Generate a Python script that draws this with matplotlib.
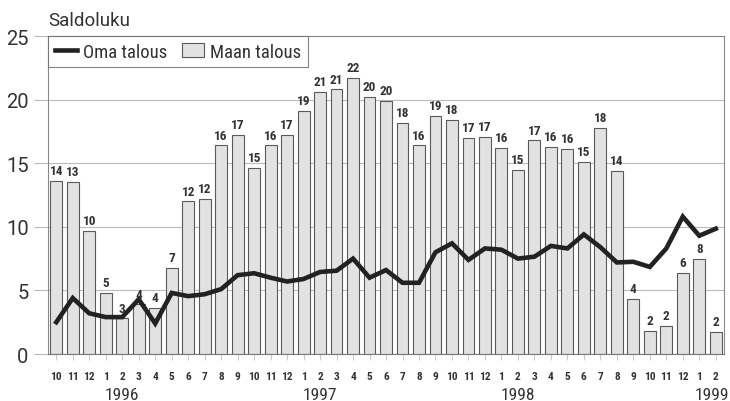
import numpy as np
import matplotlib
matplotlib.use("Agg")
import matplotlib.pyplot as plt
from matplotlib.lines import Line2D
from matplotlib.patches import Patch

# kuukaudet 10/1995 - 2/1999
kuukaudet = [10, 11, 12] + list(range(1, 13)) * 3 + [1, 2]
vuodet = ["1996", "1997", "1998", "1999"]

maan_talous = [13.6, 13.5, 9.7, 4.8, 2.8, 3.9, 3.6, 6.75, 12.0, 12.2, 16.4, 17.2,
               14.6, 16.4, 17.2, 19.1, 20.6, 20.8, 21.7, 20.2, 19.9, 18.2, 16.4, 18.7,
               18.4, 17.0, 17.1, 16.2, 14.5, 16.8, 16.3, 16.1, 15.1, 17.8, 14.4, 4.3,
               1.8, 2.2, 6.35, 7.5, 1.75]
maan_labels = [14, 13, 10, 5, 3, 4, 4, 7, 12, 12, 16, 17, 15, 16, 17, 19, 21, 21, 22,
               20, 20, 18, 16, 19, 18, 17, 17, 16, 15, 17, 16, 16, 15, 18, 14, 4, 2,
               2, 6, 8, 2]
oma_talous = [2.5, 4.4, 3.2, 2.9, 2.9, 4.3, 2.4, 4.8, 4.55, 4.7, 5.1, 6.2, 6.35,
              6.0, 5.7, 5.9, 6.45, 6.55, 7.5, 6.0, 6.6, 5.6, 5.6, 8.0, 8.7, 7.4,
              8.3, 8.2, 7.5, 7.65, 8.5, 8.3, 9.4, 8.4, 7.2, 7.25, 6.85, 8.3, 10.8,
              9.3, 9.85]

narrow = ["Roboto Condensed", "Archivo Narrow", "DejaVu Sans"]
normal = ["Roboto", "DejaVu Sans"]
tekstiv = "#333333"
x = np.arange(len(kuukaudet))

fig = plt.figure(figsize=(7.3, 4.02), dpi=100)
ax = fig.add_axes([0.0658, 0.1169, 0.926, 0.791])

ax.bar(x, maan_talous, width=0.72, color="#e2e2e2", edgecolor="#5a5a5a",
       linewidth=0.8, zorder=2)
ax.plot(x, oma_talous, color="#222222", linewidth=3.3, zorder=3,
        solid_joinstyle="miter")

for xi, h, lab in zip(x, maan_talous, maan_labels):
    ax.text(xi, h + 0.3, str(lab), ha="center", va="bottom", fontsize=9.5,
            fontweight="bold", family=narrow, color=tekstiv, zorder=4)

ax.set_xlim(-0.5, 40.5)
ax.set_ylim(0, 25)
ax.set_yticks([0, 5, 10, 15, 20, 25])
ax.yaxis.grid(True, color="#bbbbbb", linewidth=0.8, zorder=0)
ax.set_axisbelow(True)
ax.tick_params(axis="y", length=10, color="#bbbbbb", labelsize=14.5,
               labelcolor=tekstiv, pad=4)
for lab in ax.get_yticklabels():
    lab.set_family(normal)
ax.set_xticks(x)
ax.set_xticklabels([str(k) for k in kuukaudet], fontsize=8.2, fontweight="bold",
                   family=narrow, color=tekstiv)
ax.tick_params(axis="x", length=4, color="#cccccc", pad=8)

for s in ["top", "right", "left"]:
    ax.spines[s].set_color("#888888")
    ax.spines[s].set_linewidth(0.8)
ax.spines["bottom"].set_color("#777777")

# vuosiluvut helmikuun kohdalle
for i, v in enumerate(vuodet):
    pos = 4 + 12 * i
    if v == "1999":
        pos -= 0.25
    ax.text(pos, -3.15, v, ha="center", va="center", fontsize=12.5,
            family=narrow, color=tekstiv)

fig.text(0.066, 0.948, "Saldoluku", fontsize=13.5, color=tekstiv, va="center",
         family=normal)

handles = [Line2D([0], [0], color="#222222", linewidth=3.3),
           Patch(facecolor="#e2e2e2", edgecolor="#5a5a5a", linewidth=0.8)]
leg = ax.legend(handles, ["Oma talous", "Maan talous"], loc="upper left",
                bbox_to_anchor=(0, 1), ncol=2, frameon=True, fancybox=False,
                edgecolor="#666666", handlelength=1.2, handletextpad=0.3,
                columnspacing=0.8, borderpad=0.35, borderaxespad=0,
                prop={"family": narrow, "size": 13.5})
leg.get_frame().set_linewidth(0.8)
for t in leg.get_texts():
    t.set_color(tekstiv)

fig.savefig("out.png", dpi=100)
